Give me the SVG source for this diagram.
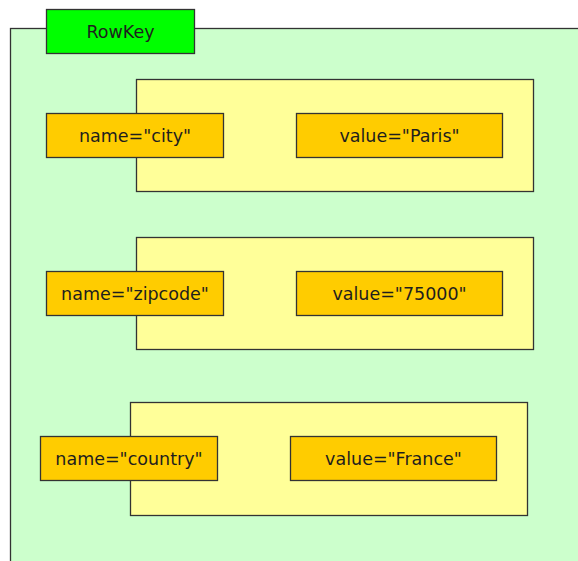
<svg xmlns="http://www.w3.org/2000/svg" width="578" height="561" viewBox="0 0 578 561">
  <style>
    rect { stroke: #333333; stroke-width: 1.3; }
    .row { fill: #ccffcc; }
    .key { fill: #00ff00; }
    .col { fill: #ffff99; }
    .cell { fill: #ffcc00; }
    text { font-family: "DejaVu Sans", "Liberation Sans", sans-serif; font-size: 17.5px; fill: #1e1e1e; text-anchor: middle; }
  </style>

  <!-- row container (runs past the right and bottom edges) -->
  <g id="row">
    <rect class="row" x="10.5" y="28.5" width="600" height="560"/>
  </g>

  <g id="rowkey">
    <rect class="key" x="46.5" y="9.5" width="148" height="44"/>
    <text x="120.5" y="37.5">RowKey</text>
  </g>

  <!-- column: city -->
  <g id="column-city">
    <rect class="col" x="136.5" y="79.5" width="397" height="112"/>
  </g>
  <g id="name-city">
    <rect class="cell" x="46.5" y="113.5" width="177" height="44"/>
    <text x="135" y="141.5">name="city"</text>
  </g>
  <g id="value-city">
    <rect class="cell" x="296.5" y="113.5" width="206" height="44"/>
    <text x="399.5" y="141.5">value="Paris"</text>
  </g>

  <!-- column: zipcode -->
  <g id="column-zipcode">
    <rect class="col" x="136.5" y="237.5" width="397" height="112"/>
  </g>
  <g id="name-zipcode">
    <rect class="cell" x="46.5" y="271.5" width="177" height="44"/>
    <text x="135" y="299.5">name="zipcode"</text>
  </g>
  <g id="value-zipcode">
    <rect class="cell" x="296.5" y="271.5" width="206" height="44"/>
    <text x="399.5" y="299.5">value="75000"</text>
  </g>

  <!-- column: country -->
  <g id="column-country">
    <rect class="col" x="130.5" y="402.5" width="397" height="113"/>
  </g>
  <g id="name-country">
    <rect class="cell" x="40.5" y="436.5" width="177" height="44"/>
    <text x="129" y="464.5">name="country"</text>
  </g>
  <g id="value-country">
    <rect class="cell" x="290.5" y="436.5" width="206" height="44"/>
    <text x="393.5" y="464.5">value="France"</text>
  </g>

  <g id="connectors"></g>
</svg>
